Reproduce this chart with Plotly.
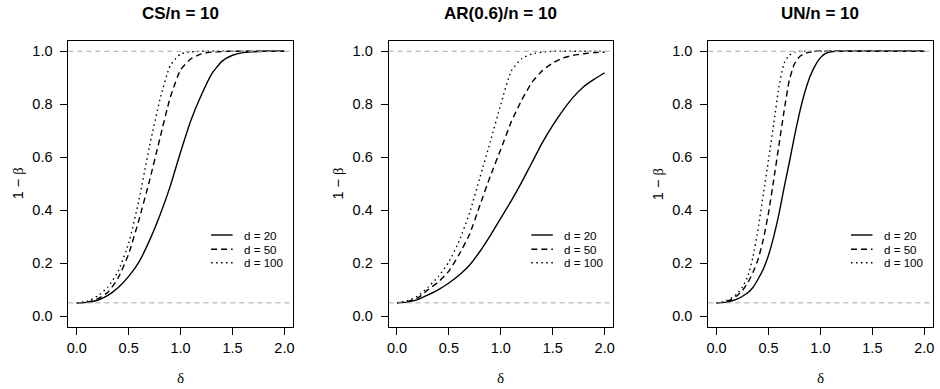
import plotly.graph_objects as go

# ---------------- data ----------------
delta_a = [0.0, 0.1, 0.2, 0.3, 0.4, 0.5, 0.6, 0.7, 0.8, 0.9, 1.0,
           1.1, 1.2, 1.3, 1.4, 1.5, 1.6, 1.7, 1.8, 1.9, 2.0]
delta_b = [0.0, 0.05, 0.1, 0.15, 0.2, 0.25, 0.3, 0.35, 0.4, 0.45, 0.5,
           0.55, 0.6, 0.65, 0.7, 0.75, 0.8, 0.85, 0.9, 0.95, 1.0,
           1.05, 1.1, 1.15, 1.2, 1.25, 1.3, 1.35, 1.4, 1.45, 1.5,
           1.55, 1.6, 1.65, 1.7, 1.75, 1.8, 1.85, 1.9, 1.95, 2.0]

cs_d20 = [0.05, 0.052, 0.06, 0.078, 0.108, 0.15, 0.205, 0.285, 0.38, 0.49, 0.62,
          0.74, 0.835, 0.915, 0.963, 0.985, 0.995, 0.998, 1.0, 1.0, 1.0]
cs_d50 = [0.05, 0.053, 0.065, 0.09, 0.145, 0.235, 0.365, 0.51, 0.67, 0.825, 0.93,
          0.972, 0.99, 0.997, 0.999, 1.0, 1.0, 1.0, 1.0, 1.0, 1.0]
cs_d100 = [0.05, 0.056, 0.075, 0.11, 0.17, 0.275, 0.44, 0.64, 0.816, 0.946, 0.99,
           0.998, 1.0, 1.0, 1.0, 1.0, 1.0, 1.0, 1.0, 1.0, 1.0]

ar_d20 = [0.05, 0.053, 0.062, 0.08, 0.1, 0.125, 0.155, 0.193, 0.245, 0.305, 0.37,
          0.435, 0.505, 0.58, 0.655, 0.72, 0.778, 0.828, 0.867, 0.895, 0.919]
ar_d50 = [0.05, 0.055, 0.068, 0.1, 0.129, 0.17, 0.234, 0.31, 0.42, 0.53, 0.63,
          0.733, 0.815, 0.883, 0.927, 0.956, 0.975, 0.985, 0.991, 0.995, 0.997]
ar_d100 = [0.05, 0.058, 0.075, 0.11, 0.15, 0.205, 0.285, 0.39, 0.525, 0.66, 0.80,
           0.925, 0.972, 0.99, 0.997, 1.0, 1.0, 1.0, 1.0, 1.0, 1.0]

un_d20 = [0.05, 0.051, 0.053, 0.058, 0.065, 0.075, 0.088, 0.108, 0.14, 0.178, 0.23,
          0.3, 0.385, 0.485, 0.58, 0.68, 0.77, 0.846, 0.905, 0.947, 0.976,
          0.992, 0.998, 1.0, 1.0, 1.0, 1.0, 1.0, 1.0, 1.0, 1.0,
          1.0, 1.0, 1.0, 1.0, 1.0, 1.0, 1.0, 1.0, 1.0, 1.0]
un_d50 = [0.05, 0.052, 0.056, 0.065, 0.078, 0.097, 0.126, 0.165, 0.215, 0.29, 0.39,
          0.515, 0.645, 0.775, 0.89, 0.953, 0.98, 0.992, 0.997, 1.0, 1.0,
          1.0, 1.0, 1.0, 1.0, 1.0, 1.0, 1.0, 1.0, 1.0, 1.0,
          1.0, 1.0, 1.0, 1.0, 1.0, 1.0, 1.0, 1.0, 1.0, 1.0]
un_d100 = [0.05, 0.053, 0.06, 0.07, 0.085, 0.11, 0.15, 0.223, 0.33, 0.46, 0.59,
           0.725, 0.865, 0.955, 0.985, 0.996, 1.0, 1.0, 1.0, 1.0, 1.0,
           1.0, 1.0, 1.0, 1.0, 1.0, 1.0, 1.0, 1.0, 1.0, 1.0,
           1.0, 1.0, 1.0, 1.0, 1.0, 1.0, 1.0, 1.0, 1.0, 1.0]

panel_titles = ["CS/n = 10", "AR(0.6)/n = 10", "UN/n = 10"]
series_labels = ["d = 20", "d = 50", "d = 100"]
ref_levels = [0.05, 1.0]
x_ticks = [0.0, 0.5, 1.0, 1.5, 2.0]
y_ticks = [0.0, 0.2, 0.4, 0.6, 0.8, 1.0]

panels = [
    (delta_a, [cs_d20, cs_d50, cs_d100]),
    (delta_a, [ar_d20, ar_d50, ar_d100]),
    (delta_b, [un_d20, un_d50, un_d100]),
]

# ---------------- styling ----------------
W, H = 940, 389
SANS = "Liberation Sans, Arial, Helvetica, sans-serif"
SERIF = "Liberation Serif, DejaVu Serif, serif"
dashes = ["solid", "6px,4px", "1.5px,3.5px"]
LW = 1.4
box_left_px = [66.7, 388.3, 709.3]
box_w_px = 225.3
box_top_px, box_bot_px = 40.7, 326.7
ydom = [1 - box_bot_px / H, 1 - box_top_px / H]

fig = go.Figure()
shapes = []
annotations = []

for i, (xs, ys_list) in enumerate(panels):
    n = i + 1
    xa = "x" if n == 1 else f"x{n}"
    ya = "y" if n == 1 else f"y{n}"
    for ys, dash, lab in zip(ys_list, dashes, series_labels):
        fig.add_trace(go.Scatter(
            x=xs, y=ys, mode="lines", name=lab, showlegend=False,
            line=dict(color="black", width=LW, dash=dash, shape="spline", smoothing=0.5),
            xaxis=xa, yaxis=ya, hoverinfo="skip"))

    xd = [box_left_px[i] / W, (box_left_px[i] + box_w_px) / W]
    axis_common = dict(showline=True, mirror=True, linecolor="black", linewidth=1,
                       ticks="outside", ticklen=7, tickwidth=1, tickcolor="black",
                       showgrid=False, zeroline=False,
                       tickfont=dict(family=SANS, size=14.5, color="black"))
    fig.update_layout(**{
        ("xaxis" if n == 1 else f"xaxis{n}"): dict(
            domain=xd, range=[-0.08, 2.08], tickvals=x_ticks, tickformat=".1f",
            anchor=ya, ticklabelstandoff=1, **axis_common),
        ("yaxis" if n == 1 else f"yaxis{n}"): dict(
            domain=ydom, range=[-0.04, 1.04], tickvals=y_ticks, tickformat=".1f",
            anchor=xa, ticklabelstandoff=5, **axis_common),
    })

    # reference lines (abline)
    for lv in ref_levels:
        shapes.append(dict(type="line", xref=f"{xa} domain", yref=ya,
                           x0=0, x1=1, y0=lv, y1=lv, layer="above",
                           line=dict(color="#a8a8a8", width=1, dash="5px,4px")))

    # manual legend (no box, like R bty="n")
    leg_y = [0.3206, 0.2706, 0.2238]
    for dash, lab, yy in zip(dashes, series_labels, leg_y):
        shapes.append(dict(type="line", xref=f"{xa} domain", yref=f"{ya} domain",
                           x0=0.636, x1=0.732, y0=yy, y1=yy,
                           line=dict(color="black", width=LW, dash=dash)))
        annotations.append(dict(xref=f"{xa} domain", yref=f"{ya} domain",
                                x=0.774, y=yy, xanchor="left", yanchor="middle",
                                text=lab, showarrow=False,
                                font=dict(family=SANS, size=11.6, color="black")))

    cx = (box_left_px[i] + box_w_px / 2) / W
    annotations.append(dict(xref="paper", yref="paper", x=cx, y=1 - 13.3 / H,
                            xanchor="center", yanchor="middle", showarrow=False,
                            text=f"<b>{panel_titles[i]}</b>",
                            font=dict(family=SANS, size=17, color="black")))
    annotations.append(dict(xref="paper", yref="paper", x=cx, y=1 - 378 / H,
                            xanchor="center", yanchor="middle", showarrow=False,
                            text="δ", font=dict(family=SERIF, size=15, color="black")))
    annotations.append(dict(xref="paper", yref="paper",
                            x=(box_left_px[i] - 51) / W,
                            y=1 - ((box_top_px + box_bot_px) / 2) / H,
                            xanchor="center", yanchor="middle", showarrow=False,
                            textangle=-90,
                            text="1 − <span style=\"font-family:Liberation Serif\">β</span>",
                            font=dict(family=SANS, size=14.5, color="black")))

fig.update_layout(width=W, height=H, margin=dict(l=0, r=0, t=0, b=0),
                  paper_bgcolor="white", plot_bgcolor="white",
                  shapes=shapes, annotations=annotations, showlegend=False)

fig.write_html("out.html", config={"displayModeBar": False},
               post_script="document.body.style.margin='0';document.body.style.padding='0';")
